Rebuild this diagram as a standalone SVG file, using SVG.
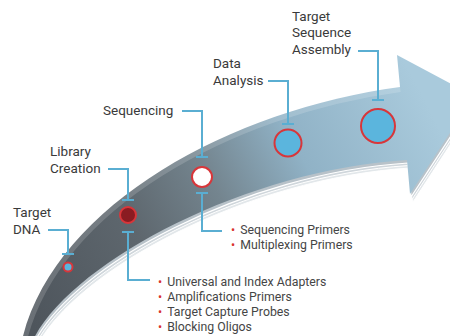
<svg xmlns="http://www.w3.org/2000/svg" width="450" height="336" viewBox="0 0 450 336">
  <defs>
    <linearGradient id="bandGrad" gradientUnits="userSpaceOnUse" x1="30" y1="320" x2="430" y2="110">
      <stop offset="0" stop-color="#4e555c"/>
      <stop offset="0.3" stop-color="#5e676e"/>
      <stop offset="0.5" stop-color="#74858f"/>
      <stop offset="0.7" stop-color="#90b2c6"/>
      <stop offset="1" stop-color="#a9cadc"/>
    </linearGradient>
    <path id="arrowShape" d="M22,340 C55,205 230,110 400,87 L397,55 L474,96 L410,194 L407,160 C245,170 72,262 33,340 Z"/>
    <style>
      .lbl { font-family: Roboto, "Liberation Sans", sans-serif; font-size: 13.5px; fill: #3a3a3a; }
      .itm { font-family: Roboto, "Liberation Sans", sans-serif; font-size: 12.3px; fill: #454545; }
      .bul { fill: #d8322e; }
      .con { fill: none; stroke: #5aaed2; stroke-width: 2; }
      .ring { stroke: #d8363a; stroke-width: 2; }
    </style>
  </defs>

  <rect width="450" height="336" fill="#ffffff"/>

  <g id="arrow">
    <use href="#arrowShape" transform="translate(3,8)" fill="#e2e7ea" stroke="#ffffff" stroke-width="1"/>
    <use href="#arrowShape" transform="translate(2,5.5)" fill="#cfd6db" stroke="#ffffff" stroke-width="1"/>
    <use href="#arrowShape" transform="translate(1,3)" fill="#b8c2c9" stroke="#ffffff" stroke-width="1.2"/>
    <use href="#arrowShape" fill="url(#bandGrad)"/>
    <path d="M22,340 C55,205 230,110 400,87" fill="none" stroke="#ffffff" stroke-opacity="0.16" stroke-width="10"/>
  </g>

  <g id="connectors">
    <path class="con" d="M48,230 H68 V254 M62,254 H74"/>
    <path class="con" d="M108,169 H128 V200 M122,200 H134"/>
    <path class="con" d="M122,232 H134 M128,232 V280 H150"/>
    <path class="con" d="M182,111 H202 V157 M196,157 H208"/>
    <path class="con" d="M196,193 H208 M202,193 V231 H222"/>
    <path class="con" d="M268,81 H288 V124 M282,124 H294"/>
    <path class="con" d="M358,51 H378 V100 M372,100 H384"/>
  </g>

  <g id="target-dna">
    <circle class="ring" cx="68" cy="267" r="4.5" fill="#5bb5dd"/>
    <text class="lbl"><tspan x="13" y="217">Target</tspan><tspan x="13" y="233.5">DNA</tspan></text>
  </g>

  <g id="library-creation">
    <circle class="ring" cx="128" cy="215" r="8" fill="#8a1c22"/>
    <text class="lbl"><tspan x="50" y="156">Library</tspan><tspan x="50" y="173">Creation</tspan></text>
  </g>

  <g id="sequencing">
    <circle class="ring" cx="202" cy="177" r="10" fill="#ffffff"/>
    <text class="lbl" x="103" y="115">Sequencing</text>
  </g>

  <g id="data-analysis">
    <circle class="ring" cx="288" cy="143" r="13.5" fill="#5bb5dd"/>
    <text class="lbl"><tspan x="213" y="68">Data</tspan><tspan x="213" y="85">Analysis</tspan></text>
  </g>

  <g id="target-sequence-assembly">
    <circle class="ring" cx="378" cy="126" r="17" fill="#5bb5dd"/>
    <text class="lbl"><tspan x="292" y="20.5">Target</tspan><tspan x="292" y="37.2">Sequence</tspan><tspan x="292" y="54">Assembly</tspan></text>
  </g>

  <g id="sequencing-items">
    <text class="itm"><tspan class="bul" x="231" y="234">•</tspan><tspan dx="5">Sequencing Primers</tspan><tspan class="bul" x="231" y="249">•</tspan><tspan dx="5">Multiplexing Primers</tspan></text>
  </g>

  <g id="library-items">
    <text class="itm"><tspan class="bul" x="158" y="286">•</tspan><tspan dx="5">Universal and Index Adapters</tspan><tspan class="bul" x="158" y="301">•</tspan><tspan dx="5">Amplifications Primers</tspan><tspan class="bul" x="158" y="316">•</tspan><tspan dx="5">Target Capture Probes</tspan><tspan class="bul" x="158" y="331">•</tspan><tspan dx="5">Blocking Oligos</tspan></text>
  </g>
</svg>
